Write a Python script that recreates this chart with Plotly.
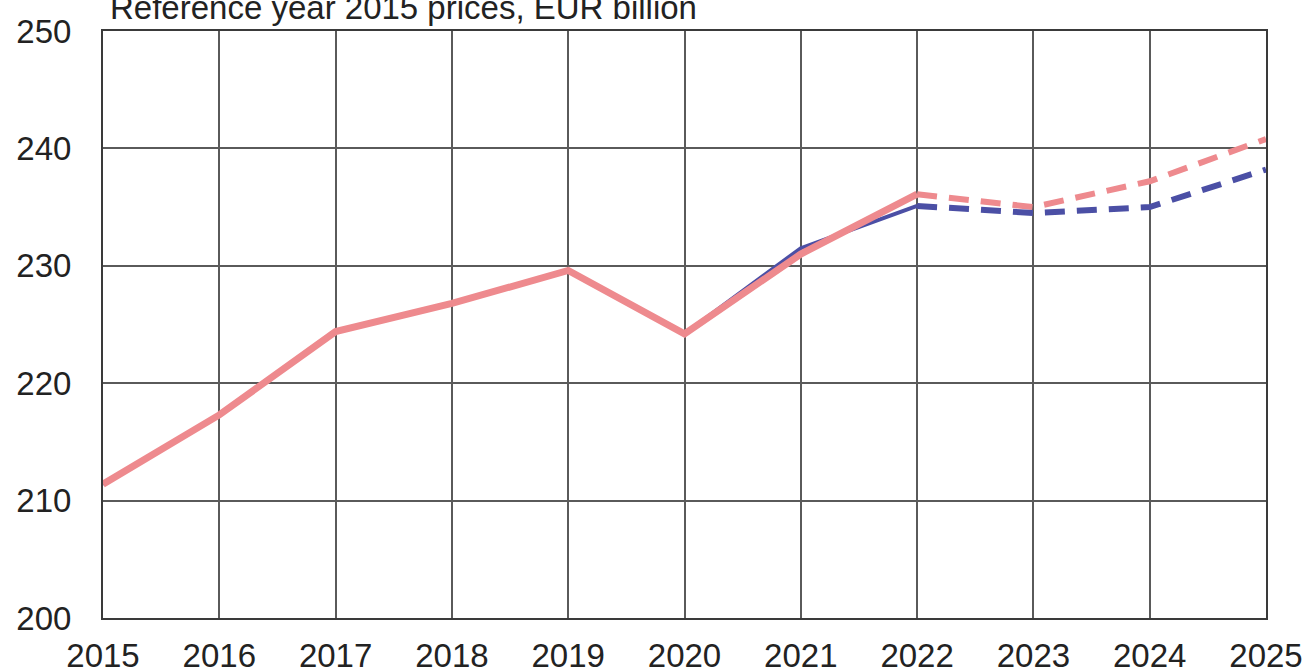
import plotly.graph_objects as go

years = [2015, 2016, 2017, 2018, 2019, 2020, 2021, 2022, 2023, 2024, 2025]
pink_vals = [211.4, 217.3, 224.4, 226.8, 229.6, 224.2, 231.0, 236.1, 235.0, 237.2, 240.8]
blue_vals = [211.4, 217.3, 224.4, 226.8, 229.6, 224.2, 231.5, 235.1, 234.5, 235.0, 238.2]
y_ticks = [200, 210, 220, 230, 240, 250]
title_text = "Reference year 2015 prices, EUR billion"

pink = "#ee8a8e"
blue = "#4b4fa5"
split = years.index(2022)

fig = go.Figure()

# actual (solid) part
fig.add_trace(go.Scatter(x=years[:split + 1], y=blue_vals[:split + 1], mode="lines",
                         line=dict(color=blue, width=4)))
fig.add_trace(go.Scatter(x=years[:split + 1], y=pink_vals[:split + 1], mode="lines",
                         line=dict(color=pink, width=7)))

# forecast (dashed) part
fig.add_trace(go.Scatter(x=years[split:], y=pink_vals[split:], mode="lines",
                         line=dict(color=pink, width=6, dash="20px,12px")))
fig.add_trace(go.Scatter(x=years[split:], y=blue_vals[split:], mode="lines",
                         line=dict(color=blue, width=6, dash="20px,12px")))

fig.add_annotation(text=title_text, xref="paper", yref="paper", x=0, y=1,
                   xanchor="left", yanchor="middle", xshift=5, yshift=24,
                   showarrow=False, font=dict(size=33, color="#222222"))

fig.update_layout(
    width=1307, height=672,
    margin=dict(l=103, r=41, t=31, b=54, autoexpand=False),
    plot_bgcolor="white", paper_bgcolor="white",
    showlegend=False,
    font=dict(family="Liberation Sans, Arial, sans-serif", size=33, color="#222222"),
)
fig.update_xaxes(range=[2015, 2025], tickvals=years, showgrid=True,
                 gridcolor="#5a5a5a", gridwidth=1.5, showline=True, mirror=True,
                 linecolor="#3a3a3a", linewidth=2, ticks="", ticklabelstandoff=7,
                 zeroline=False, automargin=False)
fig.update_yaxes(range=[200, 250], tickvals=y_ticks, showgrid=True,
                 gridcolor="#5a5a5a", gridwidth=1.5, showline=True, mirror=True,
                 linecolor="#3a3a3a", linewidth=2, ticks="", ticklabelstandoff=23,
                 zeroline=False, automargin=False)

# drop the page's default body margin so the figure sits at the window's corner
fig.write_html("out.html", config={"displayModeBar": False},
               post_script="document.body.style.margin = '0';")
